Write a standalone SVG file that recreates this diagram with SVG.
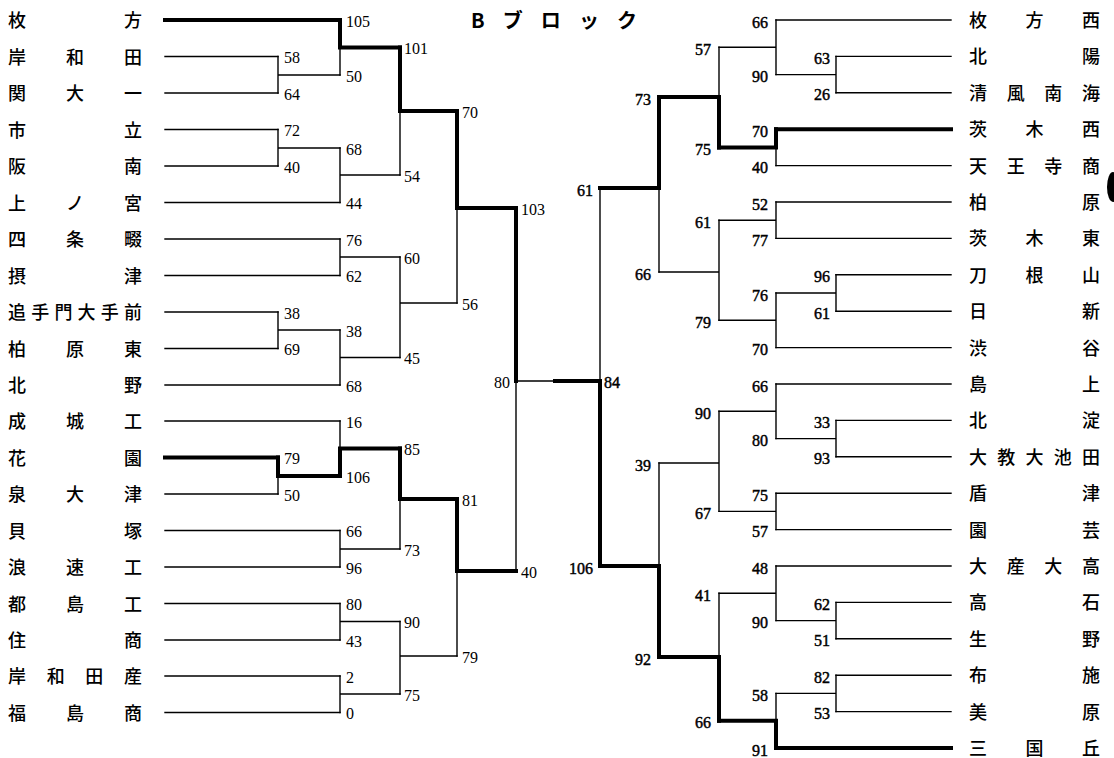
<svg xmlns="http://www.w3.org/2000/svg" width="1114" height="758" viewBox="0 0 1114 758">
<style>
.bg{fill:#fff}
.t{fill:none;stroke:#000;stroke-width:1.4;stroke-linecap:square}
.k{fill:none;stroke:#000;stroke-width:4;stroke-linecap:square}
.nm{font-family:"Noto Sans CJK JP","Noto Sans CJK SC",sans-serif;font-size:18px;font-weight:500;fill:#000}
.sc{font-family:"Liberation Serif","Times New Roman",serif;font-size:16px;fill:#000}
.scr{stroke:#000;stroke-width:0.45;text-anchor:end}
.r{text-anchor:end}
.ti{font-family:"Noto Sans CJK JP",sans-serif;font-size:20px;font-weight:700;fill:#000}
</style>
<rect class="bg" x="0" y="0" width="1114" height="758"/>
<text class="ti" x="471" y="28" textLength="166" lengthAdjust="spacing">Bブロック</text>
<ellipse cx="1113" cy="187" rx="6" ry="15" fill="#000"/>

<g id="connectors">
<path class="k" d="M165,20H340"/>
<path class="t" d="M165,56.5H278M165,93H278M165,129.5H278M165,166H278M165,202.5H340M165,239H340M165,275.5H340M165,312H278M165,348.5H278M165,385H340M165,421H340M165,494H278M165,530.5H340M165,567H340M165,603.5H340M165,640H340M165,676H340M165,712.5H340"/>
<path class="k" d="M165,457.5H278"/>
<path class="t" d="M278,56.5V93M278,75H340"/>
<path class="t" d="M340,47.5V75"/><path class="k" d="M340,20V47.5H400"/>
<path class="t" d="M278,129.5V166M278,148H340"/>
<path class="t" d="M340,148V202.5M340,175H400"/>
<path class="t" d="M400,111V175"/><path class="k" d="M400,47.5V111H457"/>
<path class="t" d="M340,239V275.5M340,257H400"/>
<path class="t" d="M278,312V348.5M278,330H340"/>
<path class="t" d="M340,330V385M340,357.5H400"/>
<path class="t" d="M400,257V357.5M400,303H457"/>
<path class="t" d="M457,208V303"/><path class="k" d="M457,111V208H516"/>
<path class="t" d="M278,476V494"/><path class="k" d="M278,457.5V476H340"/>
<path class="t" d="M340,421V448.5"/><path class="k" d="M340,476V448.5H400"/>
<path class="t" d="M340,530.5V567M340,549H400"/>
<path class="t" d="M400,499V549"/><path class="k" d="M400,448.5V499H457"/>
<path class="t" d="M340,603.5V640M340,621.5H400"/>
<path class="t" d="M340,676V712.5M340,694H400"/>
<path class="t" d="M400,621.5V694M400,656H457"/>
<path class="t" d="M457,571V656"/><path class="k" d="M457,499V571H516"/>
<path class="k" d="M516,208V381"/><path class="t" d="M516,381V571M516,381H555"/>
<path class="k" d="M555,381H600"/>
<path class="t" d="M600,188V381"/><path class="k" d="M600,381V566"/>
<path class="t" d="M776,20H951M836,56.4H951M836,92.8H951M776,165.6H951M776,202H951M776,238.4H951M836,274.8H951M836,311.2H951M776,347.6H951M776,384H951M836,420.4H951M836,456.8H951M776,493.2H951M776,529.6H951M776,566H951M836,602.4H951M836,638.8H951M836,675.2H951M836,711.6H951"/>
<path class="k" d="M776,129.2H951M776,748H951"/>
<path class="t" d="M836,56.4V92.8M836,74.6H776"/>
<path class="t" d="M776,20V74.6M776,47.3H719"/>
<path class="t" d="M776,147.4V165.6"/><path class="k" d="M776,129.2V147.4H719"/>
<path class="t" d="M719,47.3V97"/><path class="k" d="M719,147.4V97H659"/>
<path class="t" d="M776,202V238.4M776,220.2H719"/>
<path class="t" d="M836,274.8V311.2M836,293H776"/>
<path class="t" d="M776,293V347.6M776,320.3H719"/>
<path class="t" d="M719,220.2V320.3M719,272H659"/>
<path class="t" d="M659,188V272"/><path class="k" d="M659,97V188H600"/>
<path class="t" d="M836,420.4V456.8M836,438.6H776"/>
<path class="t" d="M776,384V438.6M776,411.3H719"/>
<path class="t" d="M776,493.2V529.6M776,511.4H719"/>
<path class="t" d="M719,411.3V511.4M719,463H659"/>
<path class="t" d="M836,602.4V638.8M836,620.6H776"/>
<path class="t" d="M776,566V620.6M776,593.3H719"/>
<path class="t" d="M836,675.2V711.6M836,693.4H776"/>
<path class="t" d="M776,693.4V720.7"/><path class="k" d="M776,748V720.7H719"/>
<path class="t" d="M719,593.3V657"/><path class="k" d="M719,720.7V657H659"/>
<path class="t" d="M659,463V566"/><path class="k" d="M659,657V566H600"/>
</g>

<g id="teams-left" class="nm">
<g id="L0"><text x="8" y="27" textLength="134" lengthAdjust="spacing">枚方</text></g>
<g id="L1"><text x="8" y="63.5" textLength="134" lengthAdjust="spacing">岸和田</text></g>
<g id="L2"><text x="8" y="100" textLength="134" lengthAdjust="spacing">関大一</text></g>
<g id="L3"><text x="8" y="136.5" textLength="134" lengthAdjust="spacing">市立</text></g>
<g id="L4"><text x="8" y="173" textLength="134" lengthAdjust="spacing">阪南</text></g>
<g id="L5"><text x="8" y="209.5" textLength="134" lengthAdjust="spacing">上ノ宮</text></g>
<g id="L6"><text x="8" y="246" textLength="134" lengthAdjust="spacing">四条畷</text></g>
<g id="L7"><text x="8" y="282.5" textLength="134" lengthAdjust="spacing">摂津</text></g>
<g id="L8"><text x="8" y="319" textLength="134" lengthAdjust="spacing">追手門大手前</text></g>
<g id="L9"><text x="8" y="355.5" textLength="134" lengthAdjust="spacing">柏原東</text></g>
<g id="L10"><text x="8" y="392" textLength="134" lengthAdjust="spacing">北野</text></g>
<g id="L11"><text x="8" y="428" textLength="134" lengthAdjust="spacing">成城工</text></g>
<g id="L12"><text x="8" y="464.5" textLength="134" lengthAdjust="spacing">花園</text></g>
<g id="L13"><text x="8" y="501" textLength="134" lengthAdjust="spacing">泉大津</text></g>
<g id="L14"><text x="8" y="537.5" textLength="134" lengthAdjust="spacing">貝塚</text></g>
<g id="L15"><text x="8" y="574" textLength="134" lengthAdjust="spacing">浪速工</text></g>
<g id="L16"><text x="8" y="610.5" textLength="134" lengthAdjust="spacing">都島工</text></g>
<g id="L17"><text x="8" y="647" textLength="134" lengthAdjust="spacing">住商</text></g>
<g id="L18"><text x="8" y="683" textLength="134" lengthAdjust="spacing">岸和田産</text></g>
<g id="L19"><text x="8" y="719.5" textLength="134" lengthAdjust="spacing">福島商</text></g>
</g>

<g id="teams-right" class="nm">
<g id="R0"><text x="969" y="27" textLength="131" lengthAdjust="spacing">枚方西</text></g>
<g id="R1"><text x="969" y="63.4" textLength="131" lengthAdjust="spacing">北陽</text></g>
<g id="R2"><text x="969" y="99.8" textLength="131" lengthAdjust="spacing">清風南海</text></g>
<g id="R3"><text x="969" y="136.2" textLength="131" lengthAdjust="spacing">茨木西</text></g>
<g id="R4"><text x="969" y="172.6" textLength="131" lengthAdjust="spacing">天王寺商</text></g>
<g id="R5"><text x="969" y="209" textLength="131" lengthAdjust="spacing">柏原</text></g>
<g id="R6"><text x="969" y="245.4" textLength="131" lengthAdjust="spacing">茨木東</text></g>
<g id="R7"><text x="969" y="281.8" textLength="131" lengthAdjust="spacing">刀根山</text></g>
<g id="R8"><text x="969" y="318.2" textLength="131" lengthAdjust="spacing">日新</text></g>
<g id="R9"><text x="969" y="354.6" textLength="131" lengthAdjust="spacing">渋谷</text></g>
<g id="R10"><text x="969" y="391" textLength="131" lengthAdjust="spacing">島上</text></g>
<g id="R11"><text x="969" y="427.4" textLength="131" lengthAdjust="spacing">北淀</text></g>
<g id="R12"><text x="969" y="463.8" textLength="131" lengthAdjust="spacing">大教大池田</text></g>
<g id="R13"><text x="969" y="500.2" textLength="131" lengthAdjust="spacing">盾津</text></g>
<g id="R14"><text x="969" y="536.6" textLength="131" lengthAdjust="spacing">園芸</text></g>
<g id="R15"><text x="969" y="573" textLength="131" lengthAdjust="spacing">大産大高</text></g>
<g id="R16"><text x="969" y="609.4" textLength="131" lengthAdjust="spacing">高石</text></g>
<g id="R17"><text x="969" y="645.8" textLength="131" lengthAdjust="spacing">生野</text></g>
<g id="R18"><text x="969" y="682.2" textLength="131" lengthAdjust="spacing">布施</text></g>
<g id="R19"><text x="969" y="718.6" textLength="131" lengthAdjust="spacing">美原</text></g>
<g id="R20"><text x="969" y="755" textLength="131" lengthAdjust="spacing">三国丘</text></g>
</g>

<g id="scores-left" class="sc">
<text x="284" y="63">58</text><text x="284" y="99.5">64</text><text x="284" y="136">72</text><text x="284" y="172.5">40</text>
<text x="284" y="318.5">38</text><text x="284" y="355">69</text><text x="284" y="464">79</text><text x="284" y="500.5">50</text>
<text x="346" y="26.5">105</text><text x="346" y="81.5">50</text><text x="346" y="154.5">68</text><text x="346" y="209">44</text>
<text x="346" y="245.5">76</text><text x="346" y="282">62</text><text x="346" y="336.5">38</text><text x="346" y="391.5">68</text>
<text x="346" y="427.5">16</text><text x="346" y="482.5">106</text><text x="346" y="537">66</text><text x="346" y="573.5">96</text>
<text x="346" y="610">80</text><text x="346" y="646.5">43</text><text x="346" y="682.5">2</text><text x="346" y="719">0</text>
<text x="404" y="54">101</text><text x="404" y="181.5">54</text><text x="404" y="263.5">60</text><text x="404" y="364">45</text>
<text x="404" y="455">85</text><text x="404" y="555.5">73</text><text x="404" y="628">90</text><text x="404" y="700.5">75</text>
<text x="462" y="117.5">70</text><text x="462" y="309.5">56</text><text x="462" y="505.5">81</text><text x="462" y="662.5">79</text>
<text x="521" y="214.5">103</text><text x="521" y="577.5">40</text><text class="r" x="510" y="387.5">80</text>
</g>

<g id="scores-right" class="sc scr">
<text x="768" y="27.5">66</text><text x="768" y="82">90</text><text x="768" y="136.7">70</text><text x="768" y="173">40</text>
<text x="768" y="209.5">52</text><text x="768" y="246">77</text><text x="768" y="300.5">76</text><text x="768" y="355">70</text>
<text x="768" y="391.5">66</text><text x="768" y="446">80</text><text x="768" y="500.7">75</text><text x="768" y="537">57</text>
<text x="768" y="573.5">48</text><text x="768" y="628">90</text><text x="768" y="701">58</text><text x="768" y="755.5">91</text>
<text x="830" y="64">63</text><text x="830" y="100.3">26</text><text x="830" y="282.3">96</text><text x="830" y="318.7">61</text>
<text x="830" y="428">33</text><text x="830" y="464.3">93</text><text x="830" y="610">62</text><text x="830" y="646.3">51</text>
<text x="830" y="682.7">82</text><text x="830" y="719">53</text>
<text x="711" y="54.8">57</text><text x="711" y="155">75</text><text x="711" y="227.7">61</text><text x="711" y="327.8">79</text>
<text x="711" y="418.8">90</text><text x="711" y="519">67</text><text x="711" y="600.8">41</text><text x="711" y="728.2">66</text>
<text x="651" y="104.5">73</text><text x="651" y="279.5">66</text><text x="651" y="470.5">39</text><text x="651" y="664.5">92</text>
<text x="593" y="195.5">61</text><text x="593" y="573.5">106</text>
<text x="604" y="387.5" style="text-anchor:start">84</text>
</g>
</svg>
